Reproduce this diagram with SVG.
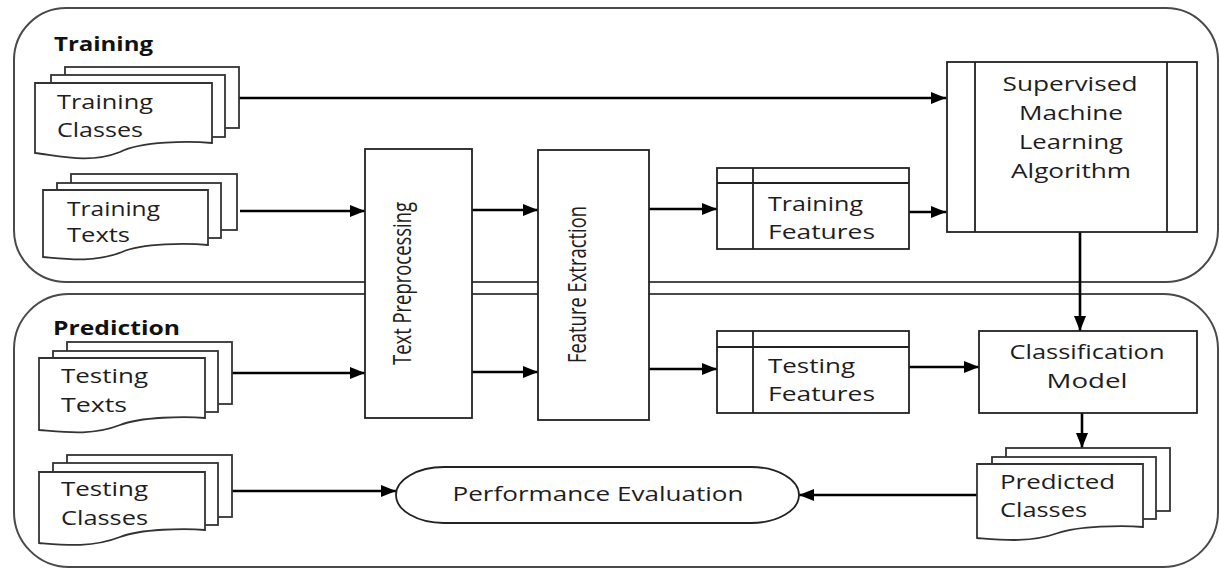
<svg xmlns="http://www.w3.org/2000/svg" width="1220" height="569" viewBox="0 0 1220 569">
  <defs>
    <marker id="arrow" markerUnits="userSpaceOnUse" markerWidth="16" markerHeight="13" refX="15" refY="6" orient="auto">
      <path d="M0,0 L15,6 L0,12 z" fill="#000"/>
    </marker>
    <style>
      .lane { fill: none; stroke: #4a4a4a; stroke-width: 2; }
      .box { fill: #fff; stroke: #222; stroke-width: 1.8; }
      .sheet { fill: #fff; stroke: #333; stroke-width: 1.8; }
      .edge { fill: none; stroke: #000; stroke-width: 2.6; marker-end: url(#arrow); }
      .div { fill: none; stroke: #222; stroke-width: 1.8; }
      text { font-family: "Open Sans", "Liberation Sans", sans-serif; fill: #1e1e1e; }
      .lbl { font-size: 20px; }
      .title { font-size: 19px; font-weight: bold; fill: #111; }
      .vert { font-size: 25px; text-anchor: middle; }
      .mid { text-anchor: middle; }
    </style>
  </defs>

  <!-- swimlanes -->
  <g id="lane-training">
    <path class="lane" d="M66,8 H1166 A52,52 0 0 1 1218,60 V230 A52,52 0 0 1 1166,282 H66 A52,52 0 0 1 14,230 V60 A52,52 0 0 1 66,8 Z"/>
    <text class="title" x="54" y="51" textLength="99" lengthAdjust="spacingAndGlyphs">Training</text>
  </g>
  <g id="lane-prediction">
    <path class="lane" d="M69,294 H1163 A55,55 0 0 1 1218,349 V512 A55,55 0 0 1 1163,567 H69 A55,55 0 0 1 14,512 V349 A55,55 0 0 1 69,294 Z"/>
    <text class="title" x="53" y="335" textLength="127" lengthAdjust="spacingAndGlyphs">Prediction</text>
  </g>

  <!-- connectors -->
  <g id="connectors">
    <path class="edge" d="M239,98 H946"/>
    <path class="edge" d="M240,211 H365"/>
    <path class="edge" d="M232,373 H365"/>
    <path class="edge" d="M472,210 H538"/>
    <path class="edge" d="M472,372 H538"/>
    <path class="edge" d="M649,209 H717"/>
    <path class="edge" d="M649,369 H717"/>
    <path class="edge" d="M909,212 H946"/>
    <path class="edge" d="M1080,232 V331"/>
    <path class="edge" d="M909,367 H979"/>
    <path class="edge" d="M1082,413 V448"/>
    <path class="edge" d="M977,495 H799"/>
    <path class="edge" d="M232,491 H396"/>
  </g>

  <!-- document stacks -->
  <g id="training-classes">
    <rect class="sheet" x="65" y="67" width="174" height="61"/>
    <rect class="sheet" x="51" y="75" width="174" height="62"/>
    <path class="sheet" d="M35,83 H212 V143 C190,141 141,141 120,152 C90,164 60,156 35,153 Z"/>
    <text class="lbl" x="57" y="109" textLength="96" lengthAdjust="spacingAndGlyphs">Training</text>
    <text class="lbl" x="57" y="137" textLength="86" lengthAdjust="spacingAndGlyphs">Classes</text>
  </g>
  <g id="training-texts">
    <rect class="sheet" x="71" y="174" width="166" height="56"/>
    <rect class="sheet" x="57" y="183" width="164" height="55"/>
    <path class="sheet" d="M43,190 H208 V245 C188,243 142,243 122,252 C94,263 66,259 43,257 Z"/>
    <text class="lbl" x="67" y="216" textLength="93" lengthAdjust="spacingAndGlyphs">Training</text>
    <text class="lbl" x="67" y="242" textLength="63" lengthAdjust="spacingAndGlyphs">Texts</text>
  </g>
  <g id="testing-texts">
    <rect class="sheet" x="67" y="342" width="165" height="62"/>
    <rect class="sheet" x="53" y="351" width="165" height="61"/>
    <path class="sheet" d="M39,358 H205 V418 C185,416 140,417 120,425 C92,436 64,432 39,430 Z"/>
    <text class="lbl" x="61" y="383" textLength="87" lengthAdjust="spacingAndGlyphs">Testing</text>
    <text class="lbl" x="61" y="412" textLength="66" lengthAdjust="spacingAndGlyphs">Texts</text>
  </g>
  <g id="testing-classes">
    <rect class="sheet" x="67" y="455" width="165" height="62"/>
    <rect class="sheet" x="53" y="463" width="165" height="62"/>
    <path class="sheet" d="M39,472 H205 V530 C185,528 140,529 120,537 C92,548 64,545 39,543 Z"/>
    <text class="lbl" x="61" y="496" textLength="87" lengthAdjust="spacingAndGlyphs">Testing</text>
    <text class="lbl" x="61" y="525" textLength="87" lengthAdjust="spacingAndGlyphs">Classes</text>
  </g>
  <g id="predicted-classes">
    <rect class="sheet" x="1006" y="448" width="164" height="63"/>
    <rect class="sheet" x="992" y="457" width="164" height="62"/>
    <path class="sheet" d="M977,464 H1143 V527 C1123,525 1078,526 1058,533 C1030,543 1002,540 977,538 Z"/>
    <text class="lbl" x="1000" y="489" textLength="115" lengthAdjust="spacingAndGlyphs">Predicted</text>
    <text class="lbl" x="1000" y="517" textLength="87" lengthAdjust="spacingAndGlyphs">Classes</text>
  </g>

  <!-- processing steps -->
  <g id="text-preprocessing">
    <rect class="box" x="365" y="149" width="107" height="269"/>
    <text class="vert" transform="translate(411,283.5) rotate(-90)" x="0" y="0" textLength="163" lengthAdjust="spacingAndGlyphs">Text Preprocessing</text>
  </g>
  <g id="feature-extraction">
    <rect class="box" x="538" y="150" width="111" height="270"/>
    <text class="vert" transform="translate(586,284.5) rotate(-90)" x="0" y="0" textLength="157" lengthAdjust="spacingAndGlyphs">Feature Extraction</text>
  </g>

  <!-- feature stores -->
  <g id="training-features">
    <rect class="box" x="717" y="168" width="192" height="81"/>
    <path class="div" d="M717,183 H909 M753,168 V249"/>
    <text class="lbl" x="768" y="211" textLength="95" lengthAdjust="spacingAndGlyphs">Training</text>
    <text class="lbl" x="768" y="239" textLength="107" lengthAdjust="spacingAndGlyphs">Features</text>
  </g>
  <g id="testing-features">
    <rect class="box" x="717" y="331" width="192" height="82"/>
    <path class="div" d="M717,347 H909 M753,331 V413"/>
    <text class="lbl" x="768" y="373" textLength="87" lengthAdjust="spacingAndGlyphs">Testing</text>
    <text class="lbl" x="768" y="401" textLength="107" lengthAdjust="spacingAndGlyphs">Features</text>
  </g>

  <!-- learning and model -->
  <g id="supervised-ml">
    <rect class="box" x="947" y="62" width="250" height="170"/>
    <path class="div" d="M975,62 V232 M1167,62 V232"/>
    <text class="lbl mid" x="1070" y="91" textLength="135" lengthAdjust="spacingAndGlyphs">Supervised</text>
    <text class="lbl mid" x="1071" y="120" textLength="104" lengthAdjust="spacingAndGlyphs">Machine</text>
    <text class="lbl mid" x="1071" y="149" textLength="104" lengthAdjust="spacingAndGlyphs">Learning</text>
    <text class="lbl mid" x="1071" y="178" textLength="120" lengthAdjust="spacingAndGlyphs">Algorithm</text>
  </g>
  <g id="classification-model">
    <rect class="box" x="979" y="331" width="218" height="82"/>
    <text class="lbl mid" x="1087" y="359" textLength="155" lengthAdjust="spacingAndGlyphs">Classification</text>
    <text class="lbl mid" x="1087" y="388" textLength="81" lengthAdjust="spacingAndGlyphs">Model</text>
  </g>
  <g id="performance-evaluation">
    <rect class="box" x="396" y="467" width="403" height="56" rx="48" ry="28"/>
    <text class="lbl mid" x="598" y="501" textLength="291" lengthAdjust="spacingAndGlyphs">Performance Evaluation</text>
  </g>
</svg>
